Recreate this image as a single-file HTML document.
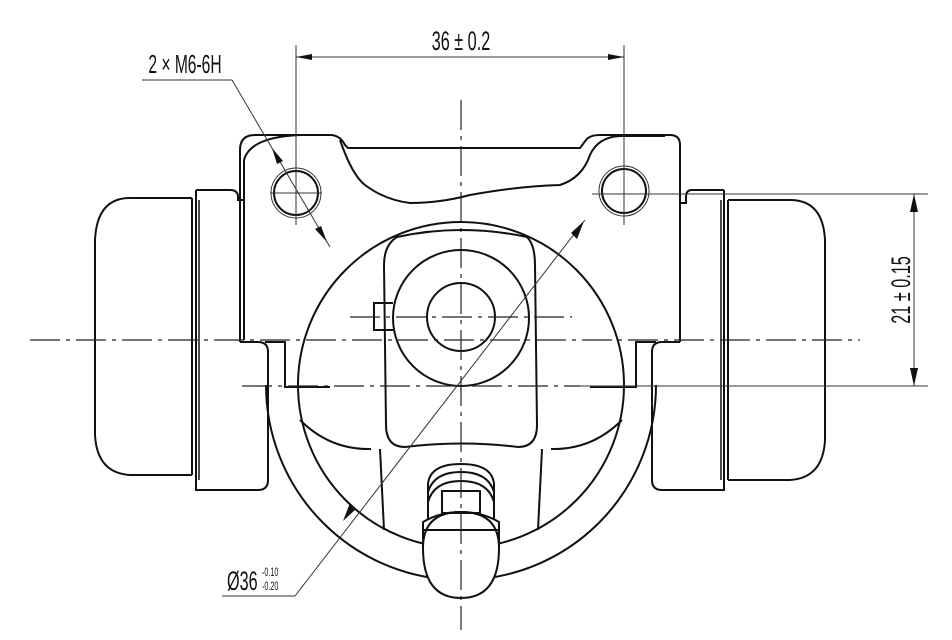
<!DOCTYPE html>
<html><head><meta charset="utf-8"><style>
html,body{margin:0;padding:0;background:#fff;}
svg{display:block;}
text{font-family:"Liberation Sans Narrow","Liberation Sans",sans-serif;fill:#111;}
</style></head><body>
<svg width="952" height="640" viewBox="0 0 952 640" xmlns="http://www.w3.org/2000/svg">
<g fill="none" stroke="#111" stroke-width="2">
<path d="M192,198 L130,198 Q97,198 95,240 L95,435 Q97,473 130,475 L192,475"/>
<line x1="192" y1="198" x2="192" y2="475"/>
<path d="M196,190 L196,490 L258,490 Q268,490 268,480 L268,352 Q268,342 258,342 L240,342"/>
<path d="M196,190 L230,190 Q238,190 238,197 L238,200 L244,200"/>
<line x1="199" y1="200" x2="199" y2="480" stroke-width="1.5"/>
<path d="M728,200 L790,200 Q823,200 825,240 L825,440 Q823,478 790,480 L728,480"/>
<line x1="728" y1="200" x2="728" y2="480"/>
<path d="M724,190 L724,490 L662,490 Q652,490 652,480 L652,352 Q652,342 662,342 L680,342"/>
<path d="M724,190 L692,190 Q686,190 686,197 L686,203 L680,203"/>
<line x1="721" y1="200" x2="721" y2="480" stroke-width="1.5"/>
<path d="M240,342 L240,150 Q240,135 255,135 L330,135 Q340,135 345,145 L348,148 L580,148 L586,140 Q590,135 600,135 L670,135 Q680,135 680,145 L680,342"/>
<path d="M244,340 L244,160 Q250,137 300,135"/>
<path d="M340,140 Q352,175 365,185 Q385,200 410,203 Q440,203 470,195 Q520,186 560,185 Q582,178 590,155 Q598,137 620,136 L665,136"/>
<path d="M265,342 L285,342 L285,387 L330,387"/>
<path d="M656,342 L636,342 L636,387 L590,387"/>
<circle cx="461" cy="385" r="163"/>
<path d="M266,385 A195,195 0 0 0 656,385"/>
<path d="M397,237 Q461,223 527,237 Q535,245 535,265 L537,425 Q537,447 518,447 Q461,440 405,447 Q386,447 386,425 L384,265 Q384,245 397,237 Z"/>
<path d="M393,303 L374,303 L374,330 L393,330"/>
<circle cx="461" cy="318" r="68"/>
<circle cx="461" cy="317" r="34"/>
<path d="M380,449 L384,530"/><path d="M542,449 L538,530"/>
<path d="M300,420 Q330,450 371,449"/><path d="M622,420 Q592,450 551,449"/>
<!-- bleeder -->
<path d="M428,520 L428,484 Q430,464 461,464 Q492,464 494,484 L494,520"/>
<path d="M428,492 Q434,472 461,472 Q488,472 494,492"/>
<path d="M428,502 Q434,481 461,481 Q488,481 494,502"/>
<rect x="442" y="491" width="38" height="22" fill="#fff"/>
<path d="M423,548 L423,522 Q440,512 461,512 Q482,512 499,522 L499,548"/>
<path d="M423,548 Q423,598 461,598 Q499,598 499,548 L499,530 L423,530 Z" fill="#fff"/>
<path d="M423,548 Q423,512 461,512 Q499,512 499,548"/>
<circle cx="296" cy="193" r="22"/>
<circle cx="624" cy="191" r="22"/>
</g>
<g fill="none" stroke="#333" stroke-width="1">
<circle cx="296" cy="193" r="25"/>
<circle cx="624" cy="191" r="25"/>
<line x1="296" y1="45" x2="296" y2="225"/>
<line x1="624" y1="45" x2="624" y2="225"/>
<line x1="296" y1="57" x2="624" y2="57"/>
<line x1="270" y1="193" x2="322" y2="193"/>
<line x1="592" y1="194" x2="928" y2="194"/>
<line x1="580" y1="386" x2="928" y2="386"/>
<line x1="914" y1="194" x2="914" y2="386"/>
<line x1="142" y1="80" x2="232" y2="80"/>
<line x1="232" y1="80" x2="330" y2="247"/>
<line x1="222" y1="596" x2="295" y2="596"/>
<line x1="295" y1="596" x2="585" y2="220"/>
</g>
<g fill="none" stroke="#222" stroke-width="1.2" stroke-dasharray="30,6,4,6">
<line x1="30" y1="340" x2="860" y2="340"/>
<line x1="461" y1="100" x2="461" y2="630"/>
<line x1="350" y1="317" x2="572" y2="317"/>
<line x1="242" y1="386" x2="580" y2="386"/>
</g>
<g fill="#111">
<polygon points="296,57 312,54 312,60"/>
<polygon points="624,57 608,54 608,60"/>
<polygon points="914,194 910,212 918,212"/>
<polygon points="914,386 910,368 918,368"/>
<polygon points="272,148 283,161 277,164"/>
<polygon points="327,242 315,229 321,226"/>
<polygon points="343,521 356,509 350,503"/>
<polygon points="584,221 571,233 577,239"/>
</g>
<text x="461" y="50" font-size="27" text-anchor="middle" transform="translate(461,0) scale(0.6,1) translate(-461,0)">36 ± 0.2</text>
<text x="185" y="73" font-size="26" text-anchor="middle" transform="translate(185,0) scale(0.6,1) translate(-185,0)">2 × M6-6H</text>
<text transform="translate(910,290) rotate(-90) scale(0.6,1)" font-size="27" text-anchor="middle">21 ± 0.15</text>
<text x="227" y="590" font-size="27" transform="translate(227,0) scale(0.6,1) translate(-227,0)">Ø36</text>
<text x="262" y="576" font-size="12" transform="translate(262,0) scale(0.6,1) translate(-262,0)">-0.10</text>
<text x="262" y="590" font-size="12" transform="translate(262,0) scale(0.6,1) translate(-262,0)">-0.20</text>
</svg>
</body></html>
